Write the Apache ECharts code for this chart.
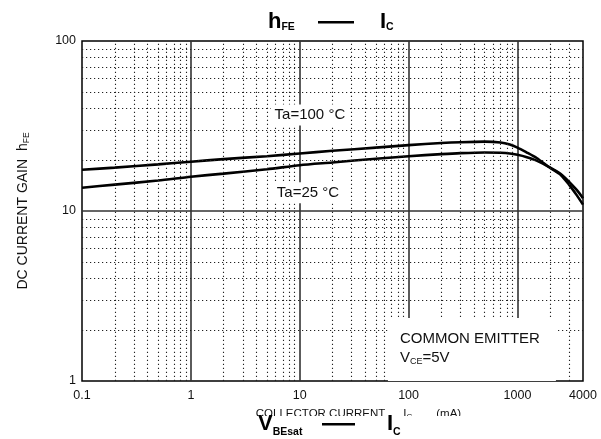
<!DOCTYPE html>
<html><head><meta charset="utf-8">
<script src="https://cdn.jsdelivr.net/npm/echarts@6/dist/echarts.min.js"></script>
<style>html,body{margin:0;padding:0;background:#fff}#c{width:601px;height:439px}</style>
</head><body><div id="c"></div>
<script>
// ---- data ----
const collectorCurrent = [0.1, 0.2, 0.5, 1, 2, 5, 10, 20, 50, 100, 200, 300, 500, 700, 850, 1000, 1200, 1500, 2000, 2500, 3000, 3500, 4000];
const hfeTa100 = [17.5, 18.0, 18.8, 19.5, 20.2, 21.0, 21.8, 22.6, 23.6, 24.4, 25.1, 25.4, 25.6, 25.3, 24.6, 23.6, 22.2, 20.5, 17.9, 16.3, 14.2, 12.4, 10.9];
const hfeTa25  = [13.7, 14.3, 15.1, 15.9, 16.6, 17.6, 18.6, 19.3, 20.3, 21.0, 21.6, 21.9, 22.1, 22.0, 21.8, 21.4, 20.8, 19.8, 18.0, 16.5, 14.8, 13.3, 11.9];
const xTickLabels = ['0.1', '1', '10', '100', '1000', '4000'];
const yTickLabels = ['1', '10', '100'];
const xMinorGrid = [0.2,0.3,0.4,0.5,0.6,0.7,0.8,0.9, 2,3,4,5,6,7,8,9, 20,30,40,50,60,70,80,90, 200,300,400,500,600,700,800,900, 2000,3000];
const yMinorGrid = [2,3,4,5,6,7,8,9, 20,30,40,50,60,70,80,90];
const seriesNames = ['Ta=100 °C', 'Ta=25 °C'];

const F = "'Liberation Sans', Arial, sans-serif";
const fmt = v => String(parseFloat(Number(v).toPrecision(4)));

const chart = echarts.init(document.getElementById('c'), null, {renderer: 'canvas'});
const option = {
  animation: false,
  backgroundColor: '#fff',
  grid: {left: 82, right: 18, top: 41, bottom: 58, show: true, borderColor: '#000', borderWidth: 1.5, backgroundColor: 'transparent', containLabel: false},
  xAxis: {
    type: 'log', logBase: 10, min: 0.1, max: 4000,
    axisLine: {show: false}, axisTick: {show: false},
    axisLabel: {margin: 8, color: '#111', fontSize: 12.5, fontFamily: F, hideOverlap: false,
      formatter: v => { const s = fmt(v); return xTickLabels.includes(s) ? s : ''; }},
    splitLine: {show: true, showMinLine: false, showMaxLine: false, lineStyle: {color: '#333', width: 1.6}},
    name: '{n|COLLECTOR CURRENT}{g1|}{n|I}{s|C}{g2|}{n|(mA)}',
    nameLocation: 'middle', nameGap: 25,
    nameTextStyle: {padding: [0, 0, 0, 52], rich: {
      n: {fontSize: 11.5, fontFamily: F, color: '#111', lineHeight: 14},
      s: {fontSize: 8, fontFamily: F, color: '#111', lineHeight: 8, padding: [6, 0, 0, 0]},
      g1: {width: 18}, g2: {width: 24}
    }}
  },
  yAxis: {
    type: 'log', logBase: 10, min: 1, max: 100,
    axisLine: {show: false}, axisTick: {show: false},
    axisLabel: {margin: 6, color: '#111', fontSize: 12.5, fontFamily: F,
      formatter: v => { const s = fmt(v); return yTickLabels.includes(s) ? s : ''; }},
    splitLine: {show: true, showMinLine: false, showMaxLine: false, lineStyle: {color: '#333', width: 1.6}},
    name: '{n|DC CURRENT GAIN  h}{s|FE}',
    nameLocation: 'middle', nameRotate: 90, nameGap: 50,
    nameTextStyle: {rich: {
      n: {fontSize: 14, fontFamily: F, color: '#111', lineHeight: 18},
      s: {fontSize: 8.5, fontFamily: F, color: '#111', lineHeight: 8, padding: [8, 0, 0, 0]}
    }}
  },
  series: [
    {
      type: 'line', data: [], silent: true, z: 1,
      markLine: {
        silent: true, animation: false, symbol: ['none', 'none'], label: {show: false},
        lineStyle: {type: [1.2, 2.8], color: '#222', width: 1.1},
        emphasis: {disabled: true},
        data: [...xMinorGrid.map(v => ({xAxis: v})), ...yMinorGrid.map(v => ({yAxis: v}))]
      }
    },
    {
      name: seriesNames[0], type: 'line', z: 3, smooth: 0.25, showSymbol: false, symbol: 'none',
      lineStyle: {color: '#000', width: 2.6},
      data: collectorCurrent.map((x, i) => [x, hfeTa100[i]])
    },
    {
      name: seriesNames[1], type: 'line', z: 3, smooth: 0.25, showSymbol: false, symbol: 'none',
      lineStyle: {color: '#000', width: 2.6},
      data: collectorCurrent.map((x, i) => [x, hfeTa25[i]])
    },
    {
      type: 'scatter', data: [], silent: true, z: 10,
      markPoint: {
        silent: true, animation: false, symbol: 'rect', symbolSize: 0,
        label: {show: true, fontFamily: F, color: '#111', fontSize: 15, backgroundColor: '#fff'},
        data: [
          {coord: [12.4, 36.7], label: {position: 'inside', formatter: seriesNames[0], padding: [3, 4]}},
          {coord: [11.9, 12.8], label: {position: 'inside', formatter: seriesNames[1], padding: [3, 4]}},
          {coord: [64.6, 2.35], label: {
            position: [0, 0], align: 'left', verticalAlign: 'top', padding: [11, 16, 14, 12],
            formatter: '{t|COMMON EMITTER}\n{t|V}{s|CE}{t|=5V}',
            rich: {
              t: {fontSize: 15, fontFamily: F, color: '#111', lineHeight: 19},
              s: {fontSize: 9, fontFamily: F, color: '#111', lineHeight: 9, padding: [9, 0, 0, 0]}
            }
          }}
        ]
      }
    }
  ],
  graphic: [
    {type: 'rect', z: 100, shape: {x: 0, y: 416, width: 601, height: 23}, style: {fill: '#fff'}},
    {type: 'text', z: 101, left: 268, top: 11, style: {text: '{m|h}{s|FE}', rich: {
      m: {fontSize: 22, fontWeight: 'bold', fontFamily: F, fill: '#000', color: '#000', lineHeight: 30},
      s: {fontSize: 10.5, fontWeight: 'bold', fontFamily: F, fill: '#000', color: '#000', lineHeight: 10.5, padding: [11, 0, 0, 0]}
    }}},
    {type: 'rect', z: 101, shape: {x: 318, y: 21, width: 36, height: 2.5}, style: {fill: '#000'}},
    {type: 'text', z: 101, left: 380, top: 11, style: {text: '{m|I}{s|C}', rich: {
      m: {fontSize: 22, fontWeight: 'bold', fontFamily: F, fill: '#000', color: '#000', lineHeight: 30},
      s: {fontSize: 10.5, fontWeight: 'bold', fontFamily: F, fill: '#000', color: '#000', lineHeight: 10.5, padding: [11, 0, 0, 0]}
    }}},
    {type: 'text', z: 101, left: 258, top: 409, style: {text: '{m|V}{s|BEsat}', rich: {
      m: {fontSize: 22, fontWeight: 'bold', fontFamily: F, fill: '#000', color: '#000', lineHeight: 30},
      s: {fontSize: 10.5, fontWeight: 'bold', fontFamily: F, fill: '#000', color: '#000', lineHeight: 10.5, padding: [18, 0, 0, 0]}
    }}},
    {type: 'rect', z: 101, shape: {x: 322, y: 423, width: 33, height: 2.5}, style: {fill: '#000'}},
    {type: 'text', z: 101, left: 387, top: 409, style: {text: '{m|I}{s|C}', rich: {
      m: {fontSize: 22, fontWeight: 'bold', fontFamily: F, fill: '#000', color: '#000', lineHeight: 30},
      s: {fontSize: 10.5, fontWeight: 'bold', fontFamily: F, fill: '#000', color: '#000', lineHeight: 10.5, padding: [18, 0, 0, 0]}
    }}}
  ]
};
chart.setOption(option);
</script>
</body></html>
